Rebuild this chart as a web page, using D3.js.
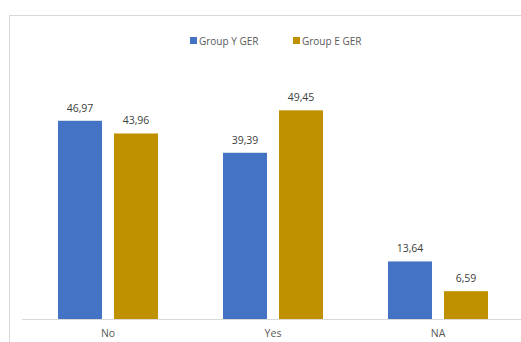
<!DOCTYPE html>
<html>
<head>
<meta charset="utf-8">
<script src="https://cdn.jsdelivr.net/npm/d3@7/dist/d3.min.js"></script>
<style>
  html, body { margin: 0; padding: 0; background: #fff; }
  svg { display: block; }
  text { font-family: "Open Sans", "Liberation Sans", sans-serif; }
</style>
</head>
<body>
<svg id="chart" width="521" height="342"></svg>
<script>
// Answer categories and group values (percent)
const categories = ["No", "Yes", "NA"];
const seriesNames = ["Group Y GER", "Group E GER"];
const groupY = [46.97, 39.39, 13.64];
const groupE = [43.96, 49.45, 6.59];
const colors = ["#4472C4", "#BF9000"];

const W = 521, H = 342;
const svg = d3.select("#chart");

// Outer chart frame
svg.append("rect")
  .attr("x", 9.5).attr("y", 15.5)
  .attr("width", W + 20).attr("height", H + 20)
  .attr("fill", "#fff")
  .attr("stroke", "#d9d9d9").attr("stroke-width", 1);

const baseY = 319;
const x0 = d3.scaleBand().domain(categories).range([25.5, 520.5]);
const x1 = d3.scaleBand().domain(seriesNames).range([0, 100]).paddingInner(0.2143);
const y = d3.scaleLinear().domain([0, 50]).range([baseY, 108]);

const locale = d3.formatLocale({ decimal: ",", thousands: ".", grouping: [3], currency: ["", ""] });
const fmt = locale.format(".2f");

const rows = categories.map((c, i) => ({ cat: c, values: [groupY[i], groupE[i]] }));

const groups = svg.append("g").selectAll("g")
  .data(rows).join("g")
  .attr("transform", d => `translate(${x0(d.cat) + (x0.bandwidth() - 100) / 2},0)`);

groups.selectAll("rect")
  .data(d => d.values.map((v, k) => ({ v, k })))
  .join("rect")
  .attr("x", d => x1(seriesNames[d.k]))
  .attr("y", d => y(d.v))
  .attr("width", x1.bandwidth())
  .attr("height", d => y(0) - y(d.v))
  .attr("fill", d => colors[d.k]);

groups.selectAll("text.val")
  .data(d => d.values.map((v, k) => ({ v, k })))
  .join("text")
  .attr("class", "val")
  .attr("x", d => x1(seriesNames[d.k]) + x1.bandwidth() / 2)
  .attr("y", d => y(d.v) - 9)
  .attr("text-anchor", "middle")
  .attr("font-size", 10.5)
  .attr("fill", "#404040")
  .text(d => fmt(d.v));

// Category axis
const xAxis = svg.append("g")
  .attr("transform", `translate(0,${baseY})`)
  .call(d3.axisBottom(x0).tickSize(0).tickPadding(0));
xAxis.select(".domain").attr("stroke", "#d9d9d9").attr("d", "M22,0.5H521");
xAxis.selectAll("text")
  .attr("y", 18)
  .attr("dy", 0)
  .attr("font-size", 10.5)
  .attr("font-family", "\"Open Sans\", sans-serif")
  .attr("fill", "#595959");

// Legend
const legendX = [190, 293];
const legend = svg.append("g").selectAll("g")
  .data(seriesNames).join("g")
  .attr("transform", (d, i) => `translate(${legendX[i]},37)`);
legend.append("rect")
  .attr("width", 7).attr("height", 7)
  .attr("fill", (d, i) => colors[i]);
legend.append("text")
  .attr("x", 9).attr("y", 7.5)
  .attr("font-size", 10)
  .attr("fill", "#595959")
  .text(d => d);
</script>
</body>
</html>
